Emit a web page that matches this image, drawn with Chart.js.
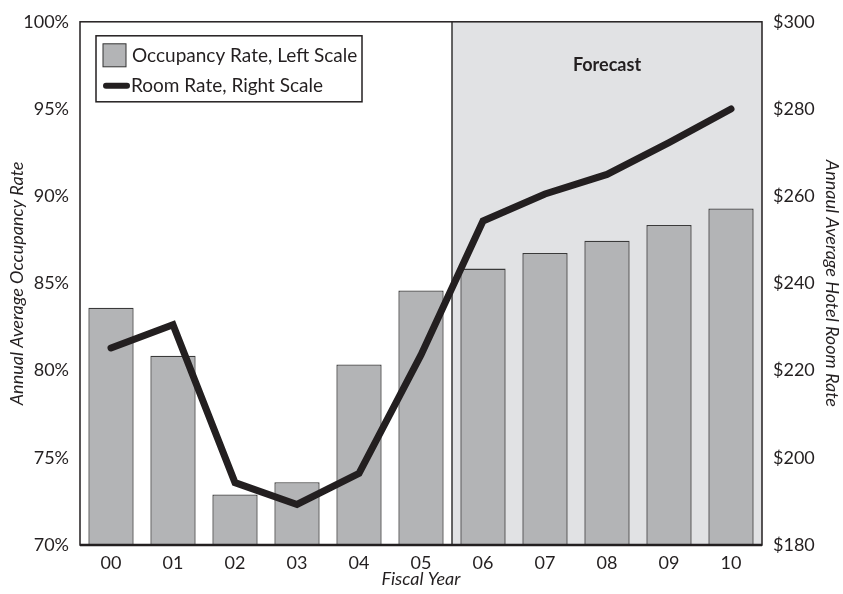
<!DOCTYPE html>
<html>
<head>
<meta charset="utf-8">
<script src="https://cdn.jsdelivr.net/npm/chart.js@4/dist/chart.umd.min.js"></script>
<style>
  html, body { margin: 0; padding: 0; background: #fff; }
  #wrap { width: 843px; height: 594px; }
</style>
</head>
<body>
<div id="wrap"><canvas id="chart" width="843" height="594"></canvas></div>
<script>
// fiscal years and the two series
var years = ["00", "01", "02", "03", "04", "05", "06", "07", "08", "09", "10"];
var occupancy = [83.6, 80.85, 72.9, 73.6, 80.35, 84.6, 85.85, 86.75, 87.45, 88.35, 89.3];
var roomRate = [225.2, 230.5, 194.3, 189.3, 196.4, 223.6, 254.3, 260.5, 265, 272.3, 280];
var firstForecast = 6;

var FONT = "Lato, 'Open Sans', sans-serif";
var INK = "#231f20";

// light panel behind the forecast years
var forecastPanel = {
  id: "forecastPanel",
  beforeDatasetsDraw: function (chart) {
    var ctx = chart.ctx, area = chart.chartArea, x = chart.scales.x;
    var left = (x.getPixelForValue(firstForecast - 1) + x.getPixelForValue(firstForecast)) / 2;
    ctx.save();
    ctx.fillStyle = "#e1e2e4";
    ctx.fillRect(left, area.top, area.right - left, area.bottom - area.top);
    ctx.strokeStyle = "#333";
    ctx.lineWidth = 1.5;
    ctx.beginPath();
    ctx.moveTo(left, area.top);
    ctx.lineTo(left, area.bottom);
    ctx.stroke();
    ctx.fillStyle = INK;
    ctx.font = "bold 18px " + FONT;
    ctx.textAlign = "center";
    ctx.textBaseline = "middle";
    ctx.fillText("Forecast", (left + area.right) / 2, area.top + 43);
    ctx.restore();
  }
};

// frame and boxed legend inside the plot
var frameAndKey = {
  id: "frameAndKey",
  afterDatasetsDraw: function (chart) {
    var ctx = chart.ctx, a = chart.chartArea;
    var ds = chart.data.datasets;
    var barLabel = ds.find(function (d) { return d.type !== "line"; }).label;
    var lineLabel = ds.find(function (d) { return d.type === "line"; }).label;
    ctx.save();
    ctx.strokeStyle = INK;
    ctx.lineWidth = 1.5;
    ctx.strokeRect(a.left, a.top, a.right - a.left, a.bottom - a.top);
    ctx.lineWidth = 2.5;
    ctx.beginPath();
    ctx.moveTo(a.left, a.bottom);
    ctx.lineTo(a.right, a.bottom);
    ctx.stroke();

    var bx = a.left + 16, by = a.top + 14, bw = 266, bh = 66;
    ctx.fillStyle = "#fff";
    ctx.fillRect(bx, by, bw, bh);
    ctx.lineWidth = 1.5;
    ctx.strokeRect(bx, by, bw, bh);

    ctx.fillStyle = "#b3b4b6";
    ctx.fillRect(bx + 7, by + 8, 23, 23);
    ctx.lineWidth = 1;
    ctx.strokeStyle = "#333";
    ctx.strokeRect(bx + 7, by + 8, 23, 23);

    ctx.strokeStyle = INK;
    ctx.lineWidth = 6;
    ctx.lineCap = "round";
    ctx.beginPath();
    ctx.moveTo(bx + 10, by + 50);
    ctx.lineTo(bx + 31, by + 50);
    ctx.stroke();

    ctx.fillStyle = INK;
    ctx.font = "19px " + FONT;
    ctx.textBaseline = "middle";
    ctx.fillText(barLabel, bx + 36, by + 20);
    ctx.fillText(lineLabel, bx + 35, by + 50);
    ctx.restore();
  }
};

var tickFont = { family: FONT, size: 18 };
var titleFont = { family: FONT, size: 18, style: "italic" };

new Chart(document.getElementById("chart"), {
  type: "bar",
  data: {
    labels: years,
    datasets: [
      {
        type: "line",
        label: "Room Rate, Right Scale",
        data: roomRate,
        yAxisID: "yRate",
        borderColor: INK,
        borderWidth: 7,
        borderCapStyle: "round",
        borderJoinStyle: "miter",
        pointRadius: 0,
        tension: 0,
        order: 0
      },
      {
        type: "bar",
        label: "Occupancy Rate, Left Scale",
        data: occupancy,
        yAxisID: "y",
        backgroundColor: "#b3b4b6",
        borderColor: "#3a3a3a",
        borderWidth: 1.3,
        borderSkipped: false,
        categoryPercentage: 1,
        barPercentage: 0.73,
        order: 1
      }
    ]
  },
  options: {
    responsive: false,
    animation: false,
    layout: { padding: { top: 17, left: 0, right: 0, bottom: 0 } },
    plugins: { legend: { display: false }, tooltip: { enabled: false } },
    scales: {
      x: {
        grid: { display: false, drawTicks: false },
        border: { display: false },
        ticks: { color: INK, font: tickFont, padding: 7 },
        title: { display: true, text: "Fiscal Year", color: INK, font: titleFont, padding: { top: 0 } },
        afterFit: function (s) { s.height = 49; }
      },
      y: {
        position: "left",
        min: 70,
        max: 100,
        grid: { display: false, drawTicks: false },
        border: { display: false },
        ticks: {
          stepSize: 5,
          color: INK,
          font: tickFont,
          padding: 11,
          callback: function (v) { return v + "%"; }
        },
        title: { display: true, text: "Annual Average Occupancy Rate", color: INK, font: titleFont, padding: { top: 6, bottom: 0 } },
        afterFit: function (s) { s.width = 80; }
      },
      yRate: {
        position: "right",
        min: 180,
        max: 300,
        grid: { display: false, drawTicks: false },
        border: { display: false },
        ticks: {
          stepSize: 20,
          color: INK,
          font: tickFont,
          padding: 11,
          callback: function (v) { return "$" + v; }
        },
        title: { display: true, text: "Annaul Average Hotel Room Rate", color: INK, font: titleFont, padding: 0 },
        afterFit: function (s) { s.width = 81; }
      }
    }
  },
  plugins: [forecastPanel, frameAndKey]
});
</script>
</body>
</html>
